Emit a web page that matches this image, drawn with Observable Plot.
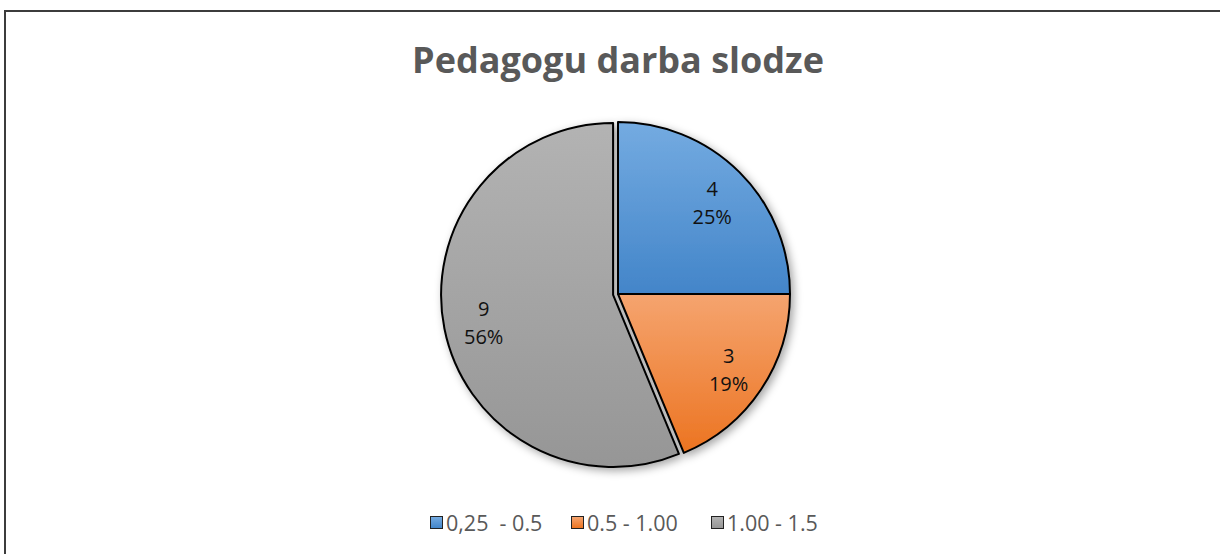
<!DOCTYPE html>
<html>
<head>
<meta charset="utf-8">
<script src="https://cdn.jsdelivr.net/npm/d3@7"></script>
<script src="https://cdn.jsdelivr.net/npm/@observablehq/plot@0.6"></script>
<style>
  html, body { margin: 0; padding: 0; background: #fff; }
  body { width: 1220px; height: 554px; overflow: hidden; position: relative; font-family: "Open Sans", sans-serif; }
  #frame { position: absolute; left: 4px; top: 10px; width: 1400px; height: 700px; border: 2px solid #3c3c3c; box-sizing: border-box; }
  #title { position: absolute; left: 0; width: 1236px; top: 36px; text-align: center; font-weight: 700; font-size: 36px; color: #595959; line-height: 48px; }
  #chart { position: absolute; left: 0; top: 0; }
  #legend { position: absolute; top: 510px; left: 0; width: 1220px; height: 24px; }
  .item { position: absolute; top: 0; display: flex; align-items: center; height: 24px; font-size: 21.5px; color: #595959; white-space: pre; }
  .sw { width: 11px; height: 11px; border: 1.5px solid #222; margin-right: 3px; }
</style>
</head>
<body>
<div id="frame"></div>
<div id="title">Pedagogu darba slodze</div>
<div id="chart"></div>
<div id="legend"></div>
<script>
const categories = ["0,25  - 0.5", "0.5 - 1.00", "1.00 - 1.5"];
const values = [4, 3, 9];
const colorTop = ["#74abe1", "#f5a46f", "#b3b3b3"];
const colorBottom = ["#4385c9", "#ec7421", "#969696"];
const explode = [0, 0, 5];
const legendX = [430, 571, 711];

const total = d3.sum(values);
const arcs = d3.pie().sort(null).value(d => d)(values);
const slices = arcs.map((a, i) => {
  const mid = (a.startAngle + a.endAngle) / 2;
  return {
    i,
    category: categories[i],
    value: values[i],
    pct: Math.round(values[i] / total * 100) + "%",
    start: a.startAngle,
    end: a.endAngle,
    mid
  };
});

const W = 1220, H = 554;
const cx = 618, cy = 294, R = 172;

function pieMark(index, scales, vals, dims, context) {
  const svg = d3.create("svg:g");
  const x0 = scales.x(0), y0 = scales.y(0);
  const r = scales.x(1) - scales.x(0);
  const defs = svg.append("defs");
  slices.forEach(s => {
    const g = defs.append("linearGradient").attr("id", "grad" + s.i)
      .attr("x1", 0).attr("y1", 0).attr("x2", 0).attr("y2", 1);
    g.append("stop").attr("offset", "0%").attr("stop-color", colorTop[s.i]);
    g.append("stop").attr("offset", "100%").attr("stop-color", colorBottom[s.i]);
  });
  const f = defs.append("filter").attr("id", "shadow")
    .attr("x", "-20%").attr("y", "-20%").attr("width", "140%").attr("height", "140%");
  f.append("feDropShadow").attr("dx", 3).attr("dy", 3).attr("stdDeviation", 4)
    .attr("flood-color", "#000").attr("flood-opacity", 0.35);
  const arc = d3.arc().innerRadius(0).outerRadius(r);
  const g = svg.append("g").attr("filter", "url(#shadow)");
  slices.forEach(s => {
    const dx = explode[s.i] * Math.sin(s.mid);
    const dy = -explode[s.i] * Math.cos(s.mid);
    g.append("path")
      .attr("d", arc({startAngle: s.start, endAngle: s.end}))
      .attr("transform", `translate(${x0 + dx},${y0 + dy})`)
      .attr("fill", `url(#grad${s.i})`)
      .attr("stroke", "#000")
      .attr("stroke-width", 2)
      .attr("stroke-linejoin", "round");
  });
  return svg.node();
}

const k = 0.77;
const labels = slices.map(s => ({
  x: k * Math.sin(s.mid) + explode[s.i] / R * Math.sin(s.mid),
  y: k * Math.cos(s.mid) + explode[s.i] / R * Math.cos(s.mid),
  text: s.value + "\n" + s.pct
}));

const plot = Plot.plot({
  width: W,
  height: H,
  margin: 0,
  x: {domain: [-1, 1], range: [cx - R, cx + R], axis: null},
  y: {domain: [-1, 1], range: [cy + R, cy - R], axis: null},
  style: {background: "transparent", overflow: "visible"},
  marks: [
    pieMark,
    Plot.text(labels, {
      x: "x", y: "y", text: "text",
      fontSize: 20, lineHeight: 1.4, fill: "#111",
      fontFamily: "Open Sans", textAnchor: "middle"
    })
  ]
});
document.getElementById("chart").appendChild(plot);

const legend = document.getElementById("legend");
categories.forEach((c, i) => {
  const it = document.createElement("div");
  it.className = "item";
  it.style.left = legendX[i] + "px";
  const sw = document.createElement("div");
  sw.className = "sw";
  sw.style.background = `linear-gradient(${colorTop[i]}, ${colorBottom[i]})`;
  it.appendChild(sw);
  const t = document.createElement("span");
  t.textContent = c;
  it.appendChild(t);
  legend.appendChild(it);
});
</script>
</body>
</html>
